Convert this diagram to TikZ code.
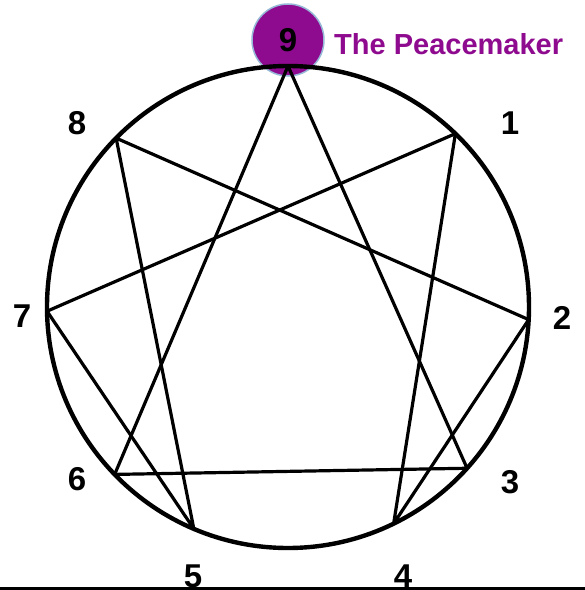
\documentclass[tikz,border=0pt]{standalone}
\usepackage{fontspec}
\setmainfont{Liberation Sans}
\definecolor{peacepurple}{RGB}{142,10,142}
\definecolor{rimblue}{RGB}{150,185,215}
\tikzset{
  numlabel/.style={font=\fontsize{33}{33}\selectfont\bfseries, inner sep=0pt},
  chord/.style={line width=3.2pt, line join=round},
}
\begin{document}
\begin{tikzpicture}[x=1pt,y=1pt]
        \useasboundingbox (-288,-283) rectangle (297,307);

        % badge for type 9
        \node[circle, fill=peacepurple, draw=rimblue, line width=1.5pt,
              minimum size=72pt, inner sep=0pt, numlabel] (badge) at (0,267) {9};
        \node[anchor=west, font=\fontsize{29}{29}\selectfont\bfseries,
              text=peacepurple, inner sep=0pt] (title) at (46,263) {The Peacemaker};

        % outer circle
        \draw[line width=4.4pt] (0,0) circle (241);

        % points on the circle
        \foreach \n/\a in {9/90, 1/46, 2/-3, 3/-42, 4/-64, 5/-113, 6/-136, 7/181, 8/135.5}
          \coordinate (p\n) at (\a:241);

        % triangle 3-6-9
        \draw[chord] (p9) -- (p3) -- (p6) -- cycle;

        % hexad 1-4-2-8-5-7
        \draw[chord] (p1) -- (p4) -- (p2) -- (p8) -- (p5) -- (p7) -- cycle;

        % numbers
        \node[numlabel] (n8) at (-211,184) {8};
        \node[numlabel] (n1) at (222,184) {1};
        \node[numlabel] (n7) at (-266,-9) {7};
        \node[numlabel] (n2) at (274,-11) {2};
        \node[numlabel] (n6) at (-211,-172) {6};
        \node[numlabel] (n3) at (222,-175) {3};
        \node[numlabel] (n5) at (-95,-269) {5};
        \node[numlabel] (n4) at (115,-269) {4};

        % base line
        \draw[line width=3pt] (-288,-281) -- (297,-281);
    \end{tikzpicture}
\end{document}
